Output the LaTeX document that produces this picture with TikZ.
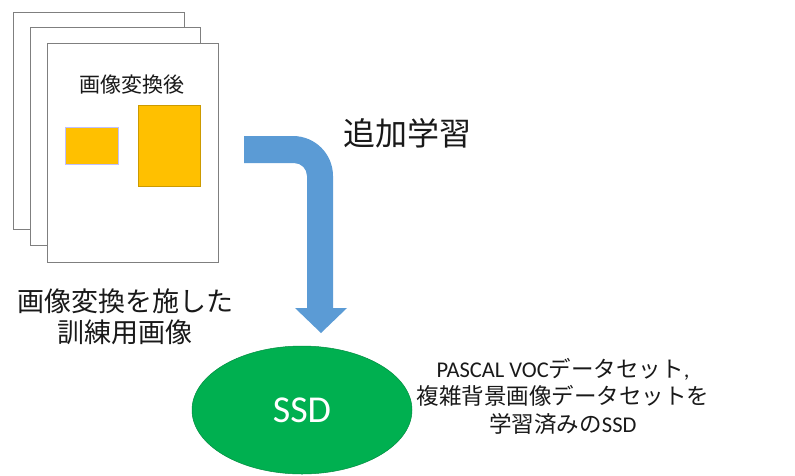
\documentclass[tikz,border=0pt]{standalone}
\usepackage{fontspec}
\setmainfont{Carlito}
\newfontfamily\jp{Noto Sans CJK JP}
\usetikzlibrary{shapes.geometric}
\definecolor{pageline}{HTML}{7F7F7F}
\definecolor{orange}{HTML}{FFC000}
\definecolor{arrowblue}{HTML}{5B9BD5}
\definecolor{ssdgreen}{HTML}{00B050}
\tikzset{
  page/.style={draw=pageline,fill=white,line width=1pt},
  box/.style={fill=orange,draw=orange!80!black,line width=0.5pt},
  txt/.style={inner sep=0pt,align=center,text=black!90},
}
\begin{document}
\begin{tikzpicture}[x=1pt,y=-1pt]
\useasboundingbox (0,0) rectangle (795,475);
% stacked pages
\draw[page] (13,12) rectangle (184,229);
\draw[page] (30,27) rectangle (200,245);
\draw[page] (47,43) rectangle (218,262);
\node[txt,font=\jp\fontsize{21}{24}\selectfont] (title) at (132,85) {画像変換後};
\draw[box,draw=blue!25] (65,127) rectangle (118,164);
\draw[box] (138,105) rectangle (200,186);
% caption
\node[txt,font=\jp\fontsize{27}{31}\selectfont] (cap) at (125,317) {画像変換を施した\\訓練用画像};
% bent arrow
\fill[arrowblue] (244,136) -- (293,136)
  .. controls (315.1,136) and (333,153.9) .. (333,176)
  -- (333,308) -- (347,308) -- (321,333) -- (295,308) -- (307,308)
  -- (307,176) .. controls (307,168.8) and (301.2,163) .. (294,163)
  -- (244,163) -- cycle;
\node[txt,font=\jp\fontsize{32}{36}\selectfont,anchor=west] (learn) at (343,133) {追加学習};
% SSD
\node[ellipse,fill=ssdgreen,draw=ssdgreen!80!black,line width=0.5pt,minimum width=220pt,minimum height=128pt,inner sep=0pt,text=white,font=\fontsize{38}{40}\selectfont] (ssd) at (302,410) {SSD};
\node[txt,font=\fontsize{22.5}{27.5}\selectfont] (desc) at (563,396) {PASCAL VOC{\jp データセット},\\{\jp 複雑背景画像データセットを}\\{\jp 学習済みの}SSD};
\end{tikzpicture}
\end{document}
